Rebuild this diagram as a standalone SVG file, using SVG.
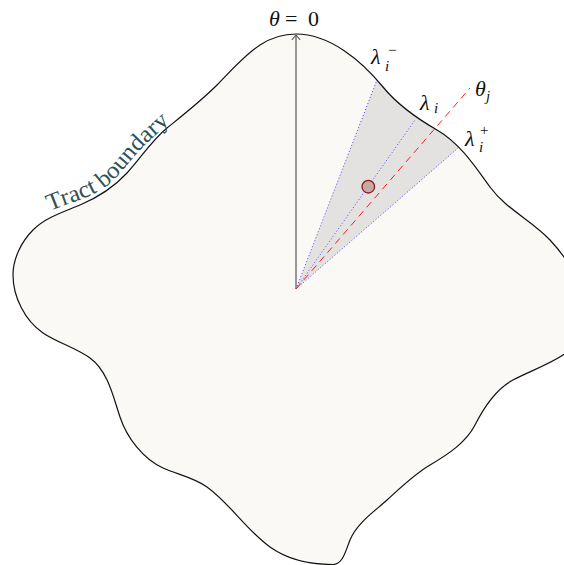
<svg xmlns="http://www.w3.org/2000/svg" xmlns:xlink="http://www.w3.org/1999/xlink" width="564" height="565" viewBox="0 0 564 565">
<style>
.lbl{font-family:"Liberation Serif","DejaVu Serif",serif;font-size:22px;fill:#111}
.it{font-style:italic}
.sm{font-family:"Liberation Serif","DejaVu Serif",serif;font-size:15px;fill:#111}
.ray{fill:none;stroke:#3b3bff;stroke-width:0.9;stroke-dasharray:1 2.2}
.tb{font-family:"Liberation Serif","DejaVu Serif",serif;font-size:24px;fill:#2f5252}
</style>
<defs>
<path id="bnd" d="M296,34 C330,34 361.6,60.8 383,87 C397.5,104.7 417,118.5 437,130 C459.6,143 474.7,165.9 490,187 C505.9,208.9 531.6,220.3 550,240 C566.3,257.5 582,280 580,305 C578,330 575.6,346.7 563,355 C547.4,365.2 529.4,371.3 513,380 C495.8,389.2 483.8,407.6 475,425 C466,442.8 447.2,454.8 430,465 C414.1,474.4 400.7,487.6 387,500 C373.7,512.1 356.8,523.3 350,540 C346,549.7 343,564.5 333,564.5 C311.3,564.5 287.6,559.6 270,547 C246.5,530.2 230.5,504.1 207,487 C194,477.6 177.6,474.6 163,468 C143,459 127,437.9 120,417 C113,396.1 107.8,371 90,358 C75.7,347.6 57.7,342.9 43,333 C24.9,320.8 13,296.8 13,275 C13,258.6 21.4,241.6 33,230 C45.6,217.4 63.7,211.9 80,205 C97.5,197.6 114.1,186.9 127,173 C140.6,158.4 151.4,140.6 167,128 C184.2,114.1 201.4,100.6 217,85 C230.9,71.1 243.5,55.8 260,45 C270.5,38.1 283.5,34 296,34 Z"/>
<clipPath id="tractClip"><use xlink:href="#bnd"/></clipPath>
<path id="tbPath" d="M50,211 C66,204 86,199 101,190 C118,179 129,161 143,147 C157,133 172,121 190,105"/>
</defs>
<g id="tract">
<use xlink:href="#bnd" fill="#faf9f5" stroke="none"/>
<polygon points="296,289 401,17 507,106" fill="#e3e2e0" clip-path="url(#tractClip)"/>
<use xlink:href="#bnd" fill="none" stroke="#111" stroke-width="1.2"/>
</g>
<g id="connectors">
<line class="ray" x1="296" y1="289" x2="377" y2="80"/>
<line class="ray" x1="296" y1="289" x2="415" y2="120"/>
<line class="ray" x1="296" y1="289" x2="458" y2="148"/>
<line x1="296" y1="289" x2="470" y2="88" stroke="#ff1a1a" stroke-width="1" stroke-dasharray="7 5"/>
<line x1="296" y1="289" x2="296" y2="35.5" stroke="#555" stroke-width="1.2"/>
<path d="M291.8,39.8 Q294.5,37 296,35 Q297.5,37 300.2,39.8" fill="none" stroke="#555" stroke-width="1.1"/>
</g>
<g id="point">
<circle cx="368.3" cy="186.7" r="6.3" fill="#c9a9a8" stroke="#8b1a1a" stroke-width="1.3"/>
</g>
<g id="labels">
<text class="lbl" y="26"><tspan class="it" x="269">θ</tspan><tspan x="285">=</tspan><tspan x="308">0</tspan></text>
<text class="lbl it" x="371" y="64">λ</text>
<text class="sm" x="388" y="55">−</text>
<text class="sm it" x="385" y="71">i</text>
<text class="lbl it" x="420" y="110">λ</text>
<text class="sm it" x="434" y="113">i</text>
<text class="lbl it" x="465" y="146">λ</text>
<text class="sm" x="480" y="135">+</text>
<text class="sm it" x="479" y="152">i</text>
<text class="lbl it" x="475" y="96">θ</text>
<text class="sm it" x="486" y="101">j</text>
</g>
<g id="tract-label">
<text class="tb"><textPath xlink:href="#tbPath" startOffset="0" textLength="152" lengthAdjust="spacingAndGlyphs">Tract boundary</textPath></text>
</g>
</svg>
